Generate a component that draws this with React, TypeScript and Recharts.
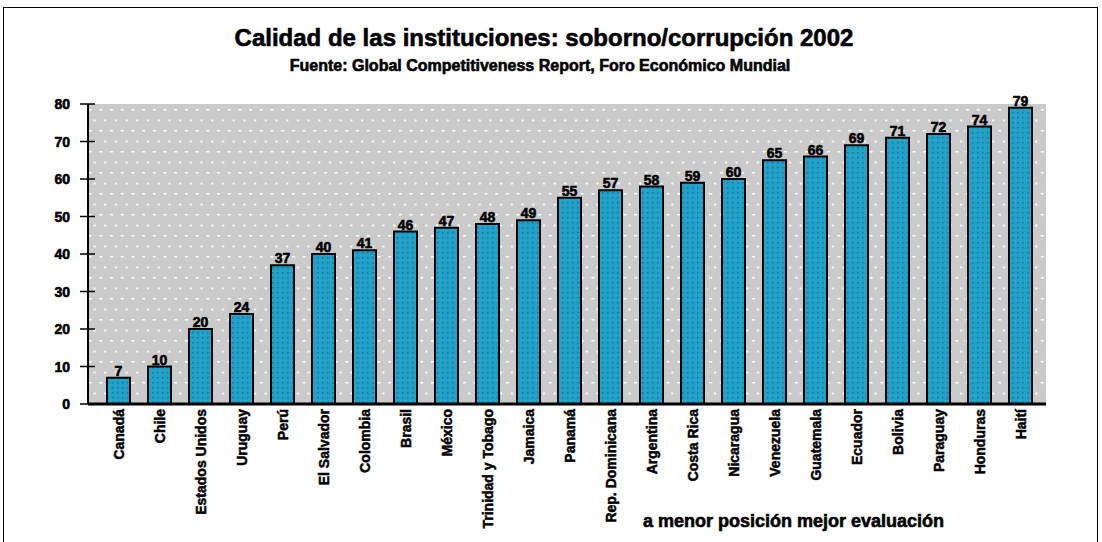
import React from "react";
import { BarChart, Bar, XAxis, YAxis, CartesianGrid, LabelList } from "recharts";

const categories = [
  "Canadá", "Chile", "Estados Unidos", "Uruguay", "Perú", "El Salvador", "Colombia",
  "Brasil", "México", "Trinidad y Tobago", "Jamaica", "Panamá", "Rep. Dominicana",
  "Argentina", "Costa Rica", "Nicaragua", "Venezuela", "Guatemala", "Ecuador",
  "Bolivia", "Paraguay", "Honduras", "Haití",
];
const values = [7, 10, 20, 24, 37, 40, 41, 46, 47, 48, 49, 55, 57, 58, 59, 60, 65, 66, 69, 71, 72, 74, 79];
const yTicks = [0, 10, 20, 30, 40, 50, 60, 70, 80];

const title = "Calidad de las instituciones: soborno/corrupción 2002";
const subtitle = "Fuente: Global Competitiveness Report, Foro Económico Mundial";
const footnote = "a menor posición mejor evaluación";

const data = categories.map((c, i) => ({ name: c, value: values[i] }));

const FONT = "'Liberation Sans', Arial, sans-serif";
const heavy = { WebkitTextStroke: "0.6px #000" } as React.CSSProperties;

const YTick = (p: any) => {
  const { x, y, payload } = p;
  return (
    <g>
      <line x1={x + 10} x2={x + 25} y1={y} y2={y} stroke="#000" strokeWidth={1.5} />
      <text x={x} y={y} dy="0.36em" textAnchor="end" fontFamily={FONT} fontWeight="bold" fontSize={14} fill="#000" stroke="#000" strokeWidth={0.6}>
        {payload.value}
      </text>
    </g>
  );
};

const XTick = (p: any) => {
  const { x, y, payload } = p;
  return (
    <text
      x={x}
      y={y}
      transform={`rotate(-90 ${x} ${y})`}
      dy="0.36em"
      textAnchor="end"
      fontFamily={FONT}
      fontWeight="bold"
      fontSize={14}
      fill="#000"
      stroke="#000"
      strokeWidth={0.5}
    >
      {payload.value}
    </text>
  );
};

export default function App() {
  return (
    <div style={{ position: "fixed", left: 0, top: 0, width: 1102, height: 542, overflow: "hidden", background: "#fff" }}>
      <div style={{ position: "absolute", left: 3, top: 7, width: 1095, height: 600, border: "1px solid #000", boxSizing: "border-box" }} />
      <div style={{ position: "absolute", left: 0, top: 25, width: 1088, textAlign: "center", fontFamily: FONT, fontWeight: "bold", fontSize: 24, lineHeight: "26px", color: "#000", ...heavy }}>
        {title}
      </div>
      <div style={{ position: "absolute", left: 0, top: 57, width: 1080, textAlign: "center", fontFamily: FONT, fontWeight: "bold", fontSize: 16, lineHeight: "18px", color: "#000", ...heavy }}>
        {subtitle}
      </div>
      <div style={{ position: "absolute", left: 643, top: 511, fontFamily: FONT, fontWeight: "bold", fontSize: 18, lineHeight: "20px", color: "#000", ...heavy }}>
        {footnote}
      </div>
      <div style={{ position: "absolute", left: 0, top: 0 }}>
        <BarChart width={1102} height={542} data={data} margin={{ top: 104, right: 56, bottom: 8, left: 28 }} barCategoryGap={0}>
          <defs>
            <pattern id="bgPat" patternUnits="userSpaceOnUse" width="10.7" height="21">
              <rect x="0" y="0" width="10.7" height="21" fill="#cacaca" />
              <rect x="3" y="4" width="3" height="1.5" fill="#ffffff" />
              <rect x="8" y="14.5" width="2" height="2" fill="#ffffff" />
            </pattern>
            <pattern id="barPat" patternUnits="userSpaceOnUse" width="5" height="5">
              <rect x="0" y="0" width="5" height="5" fill="#22a0c8" />
              <rect x="2" y="2" width="1.5" height="1.5" fill="#1277aa" />
              <rect x="0" y="0" width="1" height="1" fill="#2fb0b0" />
            </pattern>
          </defs>
          <CartesianGrid horizontal={false} vertical={false} fill="url(#bgPat)" stroke="none" />
          <XAxis
            dataKey="name"
            interval={0}
            height={130}
            tickLine={false}
            tickSize={0}
            tickMargin={5}
            padding={{ left: 10, right: 5 }}
            axisLine={{ stroke: "#000", strokeWidth: 3 }}
            tick={<XTick />}
          />
          <YAxis
            width={60}
            domain={[0, 80]}
            ticks={yTicks}
            interval={0}
            tickLine={false}
            tickSize={8}
            tickMargin={10}
            axisLine={{ stroke: "#000", strokeWidth: 2 }}
            tick={<YTick />}
          />
          <Bar dataKey="value" barSize={23} fill="url(#barPat)" stroke="#000" strokeWidth={2} isAnimationActive={false}>
            <LabelList dataKey="value" position="top" offset={2} fontFamily={FONT} fontWeight="bold" fontSize={14} fill="#000" stroke="#000" strokeWidth={0.6} />
          </Bar>
        </BarChart>
      </div>
    </div>
  );
}
